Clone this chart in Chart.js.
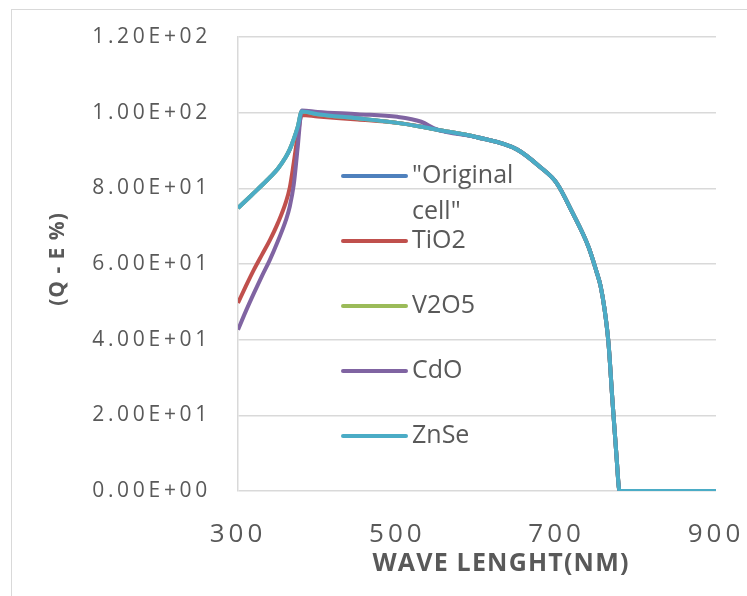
<!DOCTYPE html>
<html><head><meta charset="utf-8">
<script src="https://cdn.jsdelivr.net/npm/chart.js@4.4.0/dist/chart.umd.min.js"></script>
<style>
html,body{margin:0;padding:0;background:#fff;}
#wrap{position:relative;width:747px;height:596px;overflow:hidden;background:#fff;}
#frame{position:absolute;left:11px;top:9px;width:800px;height:700px;border:1px solid #d9d9d9;pointer-events:none;}
canvas{position:absolute;left:0;top:0;}
</style></head><body>
<div id="wrap"><canvas id="c" width="747" height="596"></canvas><div id="frame"></div></div>
<script>
// ---- data ----
const wavelengths = [300,310,320,330,340,350,360,365,370,375,380,400,450,500,530,550,600,650,680,700,720,740,750,755,760,765,770,775,779,800,850,900];
const originalCell = [74.8,76.8,78.8,80.8,82.9,85.2,88.3,90.3,93.0,96.2,100.3,99.6,98.5,97.3,96.3,95.5,93.5,90.3,85.5,81.4,73.5,64.5,58.0,54.3,48.2,39.2,24.0,9.5,0.0,0.0,0.0,0.0];
const tio2         = [49.7,54.2,58.5,62.4,66.3,70.8,76.3,80.2,86.8,94.0,99.4,99.0,98.2,97.3,96.3,95.5,93.5,90.3,85.5,81.4,73.5,64.5,58.0,54.3,48.2,39.2,24.0,9.5,0.0,0.0,0.0,0.0];
const v2o5         = [74.8,76.8,78.8,80.8,82.9,85.2,88.3,90.3,93.0,96.2,100.3,99.6,98.5,97.3,96.3,95.5,93.5,90.3,85.5,81.4,73.5,64.5,58.0,54.3,48.2,39.2,24.0,9.5,0.0,0.0,0.0,0.0];
const cdo          = [42.6,47.6,52.3,56.8,61.1,66.0,71.5,75.2,81.0,91.0,100.6,100.2,99.6,98.9,97.6,95.5,93.5,90.3,85.5,81.4,73.5,64.5,58.0,54.3,48.2,39.2,24.0,9.5,0.0,0.0,0.0,0.0];
const znse         = [74.8,76.8,78.8,80.8,82.9,85.2,88.3,90.3,93.0,96.2,100.3,99.6,98.5,97.3,96.3,95.5,93.5,90.3,85.5,81.4,73.5,64.5,58.0,54.3,48.2,39.2,24.0,9.5,0.0,0.0,0.0,0.0];
const seriesNames  = ['"Original cell"','TiO2','V2O5','CdO','ZnSe'];
const seriesValues = [originalCell, tio2, v2o5, cdo, znse];
const seriesColors = ['#4f81bd','#c0504d','#9bbb59','#8064a2','#4bacc6'];
const yTickValues  = [0,20,40,60,80,100,120];
const yTickLabels  = ['0.00E+00','2.00E+01','4.00E+01','6.00E+01','8.00E+01','1.00E+02','1.20E+02'];
const xTickValues  = [300,500,700,900];
const xTitle = 'WAVE LENGHT(NM)';
const yTitle = '(Q - E %)';

const FONT = "'Open Sans', 'Liberation Sans', sans-serif";
const TEXT = '#595959';

const datasets = seriesNames.map((name, i) => ({
  label: name,
  data: wavelengths.map((w, j) => ({x: w, y: seriesValues[i][j]})),
  borderColor: seriesColors[i],
  backgroundColor: seriesColors[i],
  borderWidth: 4,
  pointRadius: 0,
  fill: false,
  cubicInterpolationMode: 'monotone',
  order: seriesNames.length - i
}));

// letter spacing / offsets per scale part
const textStyle = {
  x: {ticks: '4px', title: '1.2px', titleShift: [24, 0]},
  y: {ticks: '3.7px', title: '1px', titleShift: [0, -5]}
};
const spacingPlugin = {
  id: 'spacing',
  afterLayout(chart) {
    for (const id of ['x', 'y']) {
      const s = chart.scales[id];
      if (!s || s._spWrapped) continue;
      s._spWrapped = true;
      const dl = s.drawLabels, dt = s.drawTitle;
      const st = textStyle[id];
      s.drawLabels = function (a) {
        const c = this.ctx; const p = c.letterSpacing; c.letterSpacing = st.ticks;
        dl.call(this, a); c.letterSpacing = p;
      };
      s.drawTitle = function (a) {
        const c = this.ctx; c.save(); c.letterSpacing = st.title;
        c.translate(st.titleShift[0], st.titleShift[1]);
        dt.call(this, a); c.restore();
      };
    }
  }
};

// legend drawn inside the plot area
const legendPlugin = {
  id: 'insideLegend',
  afterDraw(chart) {
    const ctx = chart.ctx;
    const ca = chart.chartArea;
    const x0 = ca.left + 105, lineLen = 63, textX = x0 + lineLen + 6;
    const startY = 176, rowStep = 65, lineH = 36, maxW = 115;
    ctx.save();
    ctx.font = "25px " + FONT;
    ctx.textBaseline = 'middle';
    ctx.textAlign = 'left';
    chart.data.datasets.forEach((ds, i) => {
      const y = startY + i * rowStep;
      ctx.strokeStyle = ds.borderColor;
      ctx.lineWidth = 4;
      ctx.lineCap = 'round';
      ctx.beginPath(); ctx.moveTo(x0, y); ctx.lineTo(x0 + lineLen, y); ctx.stroke();
      ctx.fillStyle = TEXT;
      const words = ds.label.split(' ');
      const lines = []; let cur = '';
      words.forEach(w => {
        const t = cur ? cur + ' ' + w : w;
        if (cur && ctx.measureText(t).width > maxW) { lines.push(cur); cur = w; } else cur = t;
      });
      lines.push(cur);
      lines.forEach((l, k) => ctx.fillText(l, textX, y + k * lineH));
    });
    ctx.restore();
  }
};

new Chart(document.getElementById('c'), {
  type: 'line',
  data: {datasets},
  plugins: [spacingPlugin, legendPlugin],
  options: {
    responsive: false,
    animation: false,
    layout: {padding: {left: 0, right: 31, top: 37, bottom: 0}},
    plugins: {legend: {display: false}, tooltip: {enabled: false}},
    scales: {
      x: {
        type: 'linear', min: 300, max: 900,
        afterBuildTicks: s => { s.ticks = xTickValues.map(v => ({value: v})); },
        afterFit: s => { s.height = 105; s.paddingLeft = 0; s.paddingRight = 0; },
        grid: {display: false, drawTicks: false},
        border: {display: false},
        ticks: {padding: 28, color: TEXT, font: {family: FONT, size: 26}, maxRotation: 0, autoSkip: false, callback: v => String(v)},
        title: {display: true, text: xTitle, color: TEXT, font: {family: FONT, size: 25, weight: 'bold'}, padding: {top: 0, bottom: 17}}
      },
      y: {
        min: 0, max: 120,
        afterBuildTicks: s => { s.ticks = yTickValues.map(v => ({value: v})); },
        afterFit: s => { s.width = 238; s.paddingTop = 0; s.paddingBottom = 0; },
        grid: {color: '#d9d9d9', lineWidth: 1.5, drawTicks: false},
        border: {display: true, color: '#d9d9d9', width: 1.5},
        ticks: {padding: 27, color: TEXT, font: {family: FONT, size: 21}, autoSkip: false,
                callback: (v) => yTickLabels[yTickValues.indexOf(v)]},
        title: {display: true, text: yTitle, color: TEXT, font: {family: FONT, size: 21, weight: 'bold'}, padding: {top: 45, bottom: 0}}
      }
    }
  }
});
</script>
</body></html>
